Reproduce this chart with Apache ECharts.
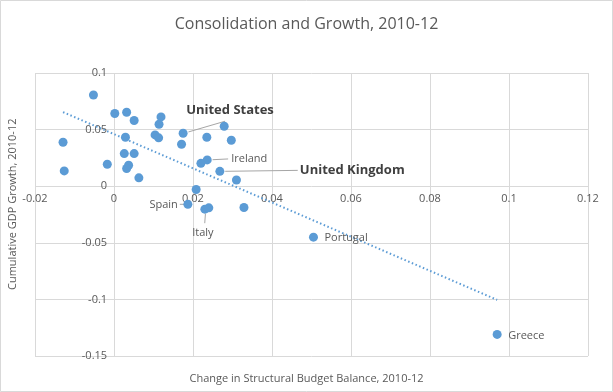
<!DOCTYPE html>
<html>
<head>
<meta charset="utf-8">
<script src="https://cdn.jsdelivr.net/npm/echarts@6/dist/echarts.min.js"></script>
<style>
html,body{margin:0;padding:0;background:#fff;}
#chart{width:613px;height:392px;}
</style>
</head>
<body>
<div id="chart"></div>
<script>
// Data
const xValues = [-0.0052, 0.0002, 0.0032, 0.0051, 0.0119, 0.0114, 0.0104, 0.0113, 0.0175, 0.0171,
                 0.0235, 0.0279, 0.0297, 0.0029, -0.0129, -0.0126, -0.0017, 0.0026, 0.0051, 0.0037,
                 0.0032, 0.0063, 0.0236, 0.0220, 0.0268, 0.0310, 0.0208, 0.0187, 0.0230, 0.0240,
                 0.0329, 0.0505, 0.0970];
const yValues = [0.0806, 0.0642, 0.0653, 0.0580, 0.0612, 0.0547, 0.0453, 0.0427, 0.0468, 0.0371,
                 0.0432, 0.0530, 0.0406, 0.0432, 0.0388, 0.0135, 0.0194, 0.0288, 0.0288, 0.0185,
                 0.0156, 0.0074, 0.0232, 0.0202, 0.0131, 0.0055, -0.0029, -0.0160, -0.0203, -0.0191,
                 -0.0188, -0.0450, -0.1309];
const pointNames = ['', '', '', '', '', '', '', '', 'United States', '',
                    '', '', '', '', '', '', '', '', '', '',
                    '', '', 'Ireland', '', 'United Kingdom', '', '', 'Spain', 'Italy', '',
                    '', 'Portugal', 'Greece'];
const xTicks = [-0.02, 0, 0.02, 0.04, 0.06, 0.08, 0.1, 0.12];
const yTicks = [-0.15, -0.1, -0.05, 0, 0.05, 0.1];

const titleText = 'Consolidation and Growth, 2010-12';
const xAxisName = 'Change in Structural Budget Balance, 2010-12';
const yAxisName = 'Cumulative GDP Growth, 2010-12';

// label placement (style, not data): label offset and leader-line end offset from the point
const labelStyles = {
  'United States':  {dx: 3,   dy: -23, align: 'left',   bold: true,  line: [41, -12]},
  'Ireland':        {dx: 24,  dy: -1,  align: 'left',   bold: false, line: [20, -1]},
  'United Kingdom': {dx: 80,  dy: -1,  align: 'left',   bold: true,  line: [77, -1]},
  'Spain':          {dx: -10, dy: 1,   align: 'right',  bold: false, line: [-9, 0]},
  'Italy':          {dx: -2,  dy: 24,  align: 'center', bold: false, line: [-1, 14]},
  'Portugal':       {dx: 11,  dy: 1,   align: 'left',   bold: false, line: null},
  'Greece':         {dx: 11,  dy: 1,   align: 'left',   bold: false, line: null}
};

// linear regression trendline
const n = xValues.length;
let sx = 0, sy = 0, sxx = 0, sxy = 0;
for (let i = 0; i < n; i++) { sx += xValues[i]; sy += yValues[i]; sxx += xValues[i]*xValues[i]; sxy += xValues[i]*yValues[i]; }
const slope = (n*sxy - sx*sy) / (n*sxx - sx*sx);
const intercept = (sy - slope*sx) / n;
const xMin = Math.min(...xValues), xMax = Math.max(...xValues);
const trend = [[xMin, intercept + slope*xMin], [xMax, intercept + slope*xMax]];

const FONT = 'Open Sans';
const points = xValues.map((x, i) => {
  const nm = pointNames[i];
  const item = {value: [x, yValues[i]], name: nm};
  if (nm) {
    const s = labelStyles[nm];
    item.label = {
      show: true, formatter: nm,
      fontFamily: FONT,
      fontSize: s.bold ? 13 : 11,
      fontWeight: s.bold ? 'bold' : 'normal',
      color: s.bold ? '#404040' : '#595959'
    };
  }
  return item;
});

const GRID = {left: 35, right: 25, top: 73, bottom: 36, containLabel: false};
const fmt = v => String(+v.toFixed(4));

const baseGraphics = [
  {id: 'border', type: 'rect', shape: {x: 0.5, y: 0.5, width: 612, height: 391},
   style: {fill: 'none', stroke: '#d9d9d9', lineWidth: 1}, silent: true},
  {id: 'xname', type: 'text', left: 'center', top: 373,
   style: {text: xAxisName, fontFamily: FONT, fontSize: 11, fill: '#595959'}},
  {id: 'yname', type: 'text', x: 7, y: 290, rotation: Math.PI/2,
   style: {text: yAxisName, fontFamily: FONT, fontSize: 11, fill: '#595959'}}
];

const chart = echarts.init(document.getElementById('chart'), null, {renderer: 'canvas'});
chart.setOption({
  animation: false,
  backgroundColor: '#fff',
  title: {
    text: titleText, left: 'center', top: 11,
    textStyle: {fontFamily: FONT, fontSize: 16, fontWeight: 'normal', color: '#595959'}
  },
  grid: GRID,
  xAxis: {
    type: 'value', min: xTicks[0], max: xTicks[xTicks.length-1], interval: 0.02,
    axisLine: {show: false, onZero: false},
    axisTick: {show: false},
    splitLine: {lineStyle: {color: '#d9d9d9'}},
    axisLabel: {fontFamily: FONT, fontSize: 11, color: '#595959', margin: 7, formatter: fmt}
  },
  yAxis: {
    type: 'value', min: yTicks[0], max: yTicks[yTicks.length-1], interval: 0.05,
    axisLine: {show: false, onZero: false},
    axisTick: {show: false},
    splitLine: {lineStyle: {color: '#d9d9d9'}},
    axisLabel: {fontFamily: FONT, fontSize: 11, color: '#595959', margin: 8, formatter: fmt}
  },
  graphic: baseGraphics,
  series: [
    {
      type: 'line', data: trend, symbol: 'none', silent: true,
      lineStyle: {color: '#5b9bd5', width: 2, type: [1.5, 2.5]}, z: 1
    },
    {
      type: 'scatter', data: points, symbolSize: 9,
      itemStyle: {color: '#5b9bd5', opacity: 1}, z: 3,
      labelLayout: function (p) {
        const nm = pointNames[p.dataIndex];
        const s = labelStyles[nm];
        if (!s) return {};
        const cx = p.rect.x + p.rect.width/2, cy = p.rect.y + p.rect.height/2;
        return {x: cx + s.dx, y: cy + s.dy, align: s.align, verticalAlign: 'middle', moveOverlap: false};
      }
    }
  ]
});

// move the axes (labels) onto the zero lines
const origin = chart.convertToPixel({gridIndex: 0}, [0, 0]);
const plotBottom = 392 - GRID.bottom;

// leader lines from labelled points to their labels
const leaders = [];
pointNames.forEach((nm, i) => {
  const s = labelStyles[nm];
  if (!nm || !s || !s.line) return;
  const c = chart.convertToPixel({gridIndex: 0}, [xValues[i], yValues[i]]);
  const len = Math.hypot(s.line[0], s.line[1]);
  const ux = s.line[0]/len, uy = s.line[1]/len;
  leaders.push({
    id: 'leader' + i, type: 'line', z: 2, silent: true,
    shape: {x1: c[0] + ux*4.5, y1: c[1] + uy*4.5, x2: c[0] + s.line[0], y2: c[1] + s.line[1]},
    style: {stroke: '#a6a6a6', lineWidth: 1}
  });
});

chart.setOption({
  xAxis: {offset: -(plotBottom - origin[1])},
  yAxis: {offset: -(origin[0] - GRID.left)},
  graphic: baseGraphics.concat(leaders)
});
</script>
</body>
</html>
